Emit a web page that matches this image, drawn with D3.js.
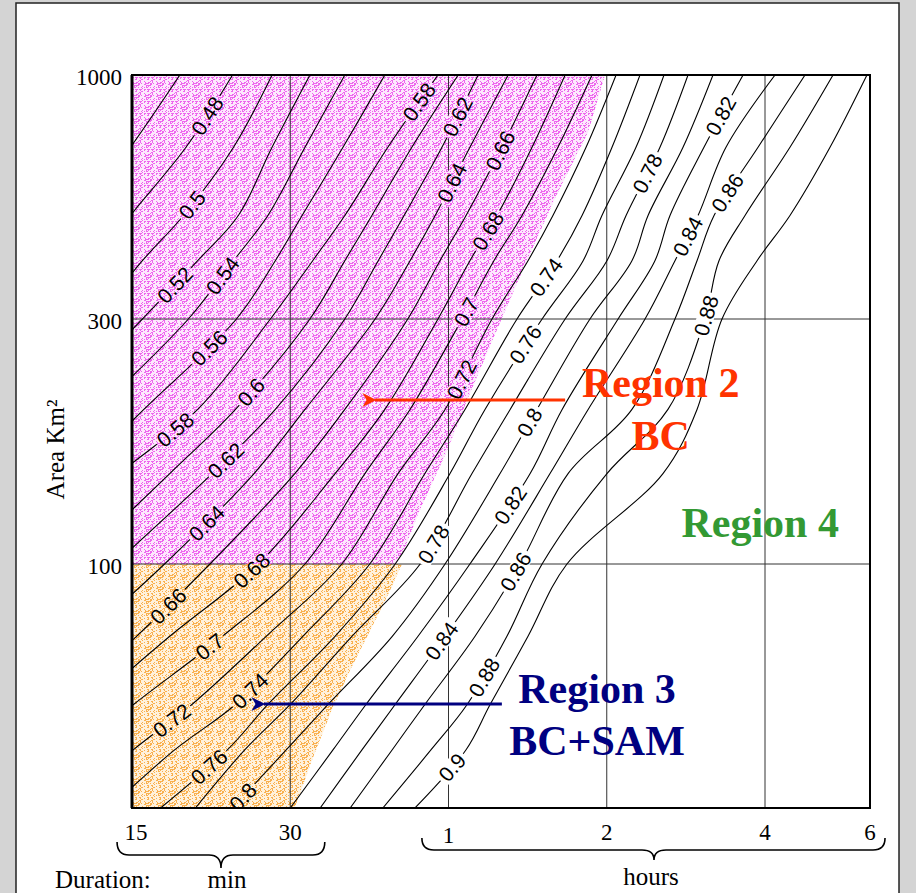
<!DOCTYPE html>
<html><head><meta charset="utf-8">
<script src="https://cdn.jsdelivr.net/npm/d3@7"></script>
<style>
html,body{margin:0;padding:0;background:#d4d4d4;}
svg{display:block;}
</style></head><body>
<svg id="chart" width="916" height="893"></svg>
<script>
// ---------------- DATA ----------------
// Area rows (km²) at which each contour's duration (minutes) was read
const areaRows = [1000, 700, 500, 400, 300, 200, 150, 100, 70, 50, 40, 30];
const arfLevels = [0.46,0.48,0.5,0.52,0.54,0.56,0.58,0.6,0.62,0.64,0.66,0.68,0.7,0.72,0.74,0.76,0.78,0.8,0.82,0.84,0.86,0.88,0.9];
// durations (min) where each ARF contour crosses the area rows (null = outside chart)
const arf046 = [18.5, 14.9, 11.9, null, null, null, null, null, null, null, null, null];
const arf048 = [23.3, 19.0, 14.9, 12.8, null, null, null, null, null, null, null, null];
const arf050 = [27.7, 23.4, 18.8, 15.7, 12.8, null, null, null, null, null, null, null];
const arf052 = [32.7, 27.7, 23.9, 20.0, 15.7, 10.7, null, null, null, null, null, null];
const arf054 = [38.1, 32.0, 27.2, 23.4, 19.2, 12.9, null, null, null, null, null, null];
const arf056 = [45.4, 37.8, 31.6, 28.1, 23.7, 15.8, 11.9, null, null, null, null, null];
const arf058 = [57.3, 46.0, 38.1, 33.1, 27.5, 20.0, 14.1, null, null, null, null, null];
const arf060 = [62.6, 51.1, 42.9, 38.1, 32.7, 23.6, 17.7, 11.7, null, null, null, null];
const arf062 = [68.3, 58.3, 49.4, 44.1, 38.1, 28.1, 21.3, 13.9, null, null, null, null];
const arf064 = [77.9, 65.9, 56.6, 50.7, 43.5, 32.0, 25.6, 17.3, 12.2, null, null, null];
const arf066 = [88.4, 75.8, 64.8, 57.8, 50.2, 38.1, 30.6, 21.1, 15.3, 10.9, null, null];
const arf068 = [100.0, 86.5, 74.2, 65.9, 57.3, 45.4, 36.5, 26.1, 17.7, 12.5, null, null];
const arf070 = [112.5, 96.9, 82.8, 73.2, 63.7, 50.7, 41.6, 32.0, 22.3, 15.1, 11.9, null];
const arf072 = [125.0, 109.6, 94.8, 85.0, 72.6, 59.1, 48.1, 37.6, 27.0, 19.5, 15.1, 11.4];
const arf074 = [138.8, 122.8, 107.7, 96.5, 81.0, 64.5, 54.1, 42.5, 31.7, 23.6, 18.1, 13.6];
const arf076 = [154.2, 136.4, 117.5, 108.2, 90.4, 70.4, 60.4, 47.5, 36.5, 27.2, 22.8, 17.0];
const arf078 = [171.3, 151.5, 130.6, 120.1, 100.0, 78.6, 66.5, 53.0, 39.3, 30.0, 24.6, 19.8];
const arf080 = [191.1, 167.6, 143.8, 134.0, 111.5, 88.4, 75.2, 59.1, 46.9, 35.4, 29.5, 23.3];
const arf082 = [218.0, 183.7, 158.3, 148.2, 126.1, 98.7, 85.8, 65.9, 52.5, 41.8, 36.2, 30.0];
const arf084 = [249.5, 202.3, 179.0, 161.8, 141.9, 110.6, 93.6, 73.6, 59.1, 47.5, 41.1, 34.2];
const arf086 = [280.1, 232.8, 192.0, 178.2, 161.8, 134.0, 101.3, 82.1, 67.4, 54.1, 46.9, 39.0];
const arf088 = [312.1, 264.3, 219.9, 196.2, 184.5, 156.9, 120.1, 90.4, 77.5, 65.1, 55.6, 45.0];
const arf090 = [355.8, 308.5, 264.3, 231.8, 198.8, 178.2, 153.5, 100.8, 85.0, 72.0, 64.8, 51.8];

// contour labels: level, duration (min), area (km²)
const labelLevel    = [0.48,0.5,0.52,0.54,0.56,0.58,0.58,0.6,0.62,0.62,0.64,0.64,0.66,0.66,0.68,0.68,0.7,0.7,0.72,0.72,0.74,0.74,0.76,0.76,0.78,0.78,0.8,0.8,0.82,0.82,0.84,0.84,0.86,0.86,0.88,0.88,0.9];
const labelDuration = [21.1,19.5,18.3,22.5,21.1,18.1,52.3,25.5,22.8,63.9,20.9,60.9,17.7,76.8,25.4,72.0,21.1,63.7,17.95,62.6,25.2,92.4,21.1,85.7,55.8,145.0,25.2,85.7,77.5,200.6,57.8,171.3,81.0,205.9,71.3,186.2,61.7];
const labelArea     = [809,527,351,369,263,182,884,215,158,801,119,590,80.9,681,96.1,461,66.4,314,45.9,230,53.2,367,36.7,265,110,611,30.7,189,131.5,809,68.7,450,95.7,553,56.4,304,36.2];

// shaded regions (boundary): duration (min), area (km²)
const region2Duration = [15, 119.1, 110.6, 95.7, 83.9, 75.8, 65.4, 59.9, 52.5, 49.6, 47.5, 15];
const region2Area     = [1000, 1000, 755, 545, 392, 301, 211, 168, 125, 107.4, 100, 100];
const region3Duration = [15, 48.95, 46.0, 42.9, 39.0, 36.0, 33.0, 30.6, 15];
const region3Area     = [100, 100, 85.8, 73.3, 59.3, 48.7, 38.0, 30, 30];

// axes
const xTickValues = [15, 30, 60, 120, 240, 360];
const xTickLabels = ["15", "30", "1", "2", "4", "6"];
const xGridValues = [30, 60, 120, 240];
const yTickValues = [100, 300, 1000];
const yTickLabels = ["100", "300", "1000"];
const yGridValues = [100, 300];

// annotations
const regionText     = ["Region 2", "BC", "Region 4", "Region 3", "BC+SAM"];
const regionTextDur  = [152, 152, 235, 115, 115];
const regionTextArea = [211, 166.7, 112.9, 50.4, 39.0];
const regionTextCol  = ["#ff3300", "#ff3300", "#339933", "#000080", "#000080"];
const arrowFromDur = [100, 75.8], arrowToDur = [43.1, 26.5], arrowArea = [208.6, 50.1];
const arrowCol = ["#ff3300", "#000080"];

// ---------------- CHART ----------------
const contourDurations = [arf046,arf048,arf050,arf052,arf054,arf056,arf058,arf060,arf062,arf064,arf066,arf068,
  arf070,arf072,arf074,arf076,arf078,arf080,arf082,arf084,arf086,arf088,arf090];

const svg = d3.select("#chart");
const x = d3.scaleLog().domain([15, 240, 360]).range([132, 765, 870]);
const y = d3.scaleLog().domain([30, 100, 300, 1000]).range([808, 564, 319, 75]);
const X0 = x(15), X1 = x(360), Y0 = y(1000), Y1 = y(30);

const defs = svg.append("defs");
function stipple(id, base, dot, thresh, dash) {
  const s = 12;
  const p = defs.append("pattern").attr("id", id).attr("patternUnits", "userSpaceOnUse")
    .attr("width", s).attr("height", s);
  p.append("rect").attr("width", s).attr("height", s).attr("fill", base);
  for (let i = 0; i < s; i++) for (let j = 0; j < s; j++) {
    const h = (i * 37 + j * 91 + ((i * j) % 7) * 13) % 17;
    if (h < thresh) p.append("rect").attr("x", i).attr("y", j).attr("width", 1).attr("height", 1).attr("fill", dot);
  }
  if (dash) for (let i = 0; i < s; i += 4)
    p.append("rect").attr("x", i).attr("y", 5).attr("width", 2).attr("height", 1).attr("fill", dot);
}
stipple("pinkStip", "#fde8fd", "#ee66ee", 5, true);
stipple("orangeStip", "#fff1dc", "#f9b04e", 5, false);

defs.append("clipPath").attr("id", "plotClip").append("rect")
  .attr("x", X0).attr("y", Y0).attr("width", X1 - X0).attr("height", Y1 - Y0);

// panel
svg.append("rect").attr("width", 916).attr("height", 893).attr("fill", "#d4d4d4");
svg.append("rect").attr("x", 16).attr("y", 3).attr("width", 883).attr("height", 900)
  .attr("fill", "#fff").attr("stroke", "#222").attr("stroke-width", 1.5);

// regions
const polyLine = d3.line().x(d => x(d[0])).y(d => y(d[1]));
svg.append("path").attr("d", polyLine(region2Duration.map((d, i) => [d, region2Area[i]])) + "Z")
  .attr("fill", "url(#pinkStip)").attr("clip-path", "url(#plotClip)");
svg.append("path").attr("d", polyLine(region3Duration.map((d, i) => [d, region3Area[i]])) + "Z")
  .attr("fill", "url(#orangeStip)").attr("clip-path", "url(#plotClip)");

// mask (label gaps)
const mask = defs.append("mask").attr("id", "labelMask").attr("maskUnits", "userSpaceOnUse")
  .attr("x", 0).attr("y", 0).attr("width", 916).attr("height", 893);
mask.append("rect").attr("width", 916).attr("height", 893).attr("fill", "#fff");

const masked = svg.append("g").attr("mask", "url(#labelMask)");
const grid = masked.append("g").attr("stroke", "#333").attr("stroke-width", 1);
grid.selectAll("line.vx").data(xGridValues).join("line")
  .attr("x1", d => x(d)).attr("x2", d => x(d)).attr("y1", Y0).attr("y2", Y1);
grid.selectAll("line.hy").data(yGridValues).join("line")
  .attr("y1", d => y(d)).attr("y2", d => y(d)).attr("x1", X0).attr("x2", X1);

const lineGen = d3.line().x(d => x(d[0])).y(d => y(d[1])).curve(d3.curveCatmullRom.alpha(0.5));
const contourG = masked.append("g").attr("clip-path", "url(#plotClip)");
const pathNodes = {};
arfLevels.forEach((lv, k) => {
  const pts = areaRows.map((a, i) => [contourDurations[k][i], a]).filter(d => d[0] != null);
  const p = contourG.append("path").attr("d", lineGen(pts)).attr("fill", "none")
    .attr("stroke", "#000").attr("stroke-width", 1.1);
  pathNodes[lv] = p.node();
});

// contour labels
const labelG = svg.append("g").attr("clip-path", "url(#plotClip)");
labelLevel.forEach((lv, i) => {
  const node = pathNodes[lv];
  const px = x(labelDuration[i]), py = y(labelArea[i]);
  const len = node.getTotalLength();
  let best = 0, bd = Infinity;
  for (let l = 0; l <= len; l += 1.5) {
    const p = node.getPointAtLength(l);
    const d = (p.x - px) ** 2 + (p.y - py) ** 2;
    if (d < bd) { bd = d; best = l; }
  }
  const c = node.getPointAtLength(best);
  const a = node.getPointAtLength(Math.max(0, best - 5)), b = node.getPointAtLength(Math.min(len, best + 5));
  let ang = Math.atan2(b.y - a.y, b.x - a.x) * 180 / Math.PI;
  if (ang > 90) ang -= 180;
  if (ang < -90) ang += 180;
  const t = labelG.append("text").text(String(lv))
    .attr("font-family", "'Liberation Sans', Arial, sans-serif").attr("font-size", 21)
    .attr("text-anchor", "middle").attr("dominant-baseline", "central")
    .attr("transform", `translate(${c.x},${c.y}) rotate(${ang})`);
  const w = t.node().getComputedTextLength();
  mask.append("rect").attr("x", -w / 2 - 3).attr("y", -8.5).attr("width", w + 6).attr("height", 17)
    .attr("fill", "#000").attr("transform", `translate(${c.x},${c.y}) rotate(${ang})`);
});

// plot frame
svg.append("rect").attr("x", X0).attr("y", Y0).attr("width", X1 - X0).attr("height", Y1 - Y0)
  .attr("fill", "none").attr("stroke", "#000").attr("stroke-width", 2);
svg.append("line").attr("x1", X0).attr("x2", X0).attr("y1", Y0).attr("y2", Y1)
  .attr("stroke", "#000").attr("stroke-width", 3);

// arrows
arrowCol.forEach((col, i) => {
  defs.append("marker").attr("id", "ah" + i).attr("viewBox", "0 0 10 10").attr("refX", 1).attr("refY", 5)
    .attr("markerUnits", "userSpaceOnUse").attr("markerWidth", 18).attr("markerHeight", 14).attr("orient", "auto")
    .append("path").attr("d", "M10,0 L0,5 L10,10 L7,5 Z").attr("fill", col);
  svg.append("line").attr("x1", x(arrowFromDur[i])).attr("x2", x(arrowToDur[i]) + 2)
    .attr("y1", y(arrowArea[i])).attr("y2", y(arrowArea[i]))
    .attr("stroke", col).attr("stroke-width", 3).attr("marker-end", "url(#ah" + i + ")");
});

// region texts
regionText.forEach((s, i) => {
  svg.append("text").text(s).attr("x", x(regionTextDur[i])).attr("y", y(regionTextArea[i]))
    .attr("text-anchor", "middle").attr("font-family", "'Liberation Serif', 'Times New Roman', serif")
    .attr("font-weight", "bold").attr("font-size", 42).attr("fill", regionTextCol[i]);
});

// axes text
const serif = "'Liberation Serif', 'Times New Roman', serif";
svg.selectAll("text.yt").data(yTickValues).join("text").text((d, i) => yTickLabels[i])
  .attr("x", X0 - 10).attr("y", d => y(d) + 10).attr("text-anchor", "end")
  .attr("font-family", serif).attr("font-size", 23);
svg.selectAll("text.xt").data(xTickValues).join("text").text((d, i) => xTickLabels[i])
  .attr("x", d => x(d) + (d === 15 ? 4 : 0)).attr("y", d => d === 60 ? 843 : 840).attr("text-anchor", "middle")
  .attr("font-family", serif).attr("font-size", 23);
svg.append("text").text("Area Km²").attr("transform", `translate(64,${(y(100) + y(300)) / 2 + 8}) rotate(-90)`)
  .attr("text-anchor", "middle").attr("font-family", serif).attr("font-size", 25);
svg.append("text").text("Duration:").attr("x", 55).attr("y", 888).attr("font-family", serif).attr("font-size", 25);

// braces
function brace(x0, x1, xm, yTop, yMid, yTip) {
  return `M${x0},${yTop} Q${x0},${yMid} ${x0 + 12},${yMid} L${xm - 12},${yMid} Q${xm},${yMid} ${xm},${yTip}` +
    ` Q${xm},${yMid} ${xm + 12},${yMid} L${x1 - 12},${yMid} Q${x1},${yMid} ${x1},${yTop}`;
}
const braceMin = [14.05, 34.9, 22.15], braceHr = [53.4, 381.5, 147.6];
svg.append("path").attr("d", brace(x(braceMin[0]), x(braceMin[1]), x(braceMin[2]), 842, 855, 868))
  .attr("fill", "none").attr("stroke", "#000").attr("stroke-width", 1.6);
svg.append("path").attr("d", brace(x(braceHr[0]), x(braceHr[1]), x(braceHr[2]), 838, 850, 860))
  .attr("fill", "none").attr("stroke", "#000").attr("stroke-width", 1.6);
svg.append("text").text("min").attr("x", x(braceMin[2]) + 6).attr("y", 888).attr("text-anchor", "middle")
  .attr("font-family", serif).attr("font-size", 25);
svg.append("text").text("hours").attr("x", x(braceHr[2]) - 3).attr("y", 885).attr("text-anchor", "middle")
  .attr("font-family", serif).attr("font-size", 25);
</script>
</body></html>
